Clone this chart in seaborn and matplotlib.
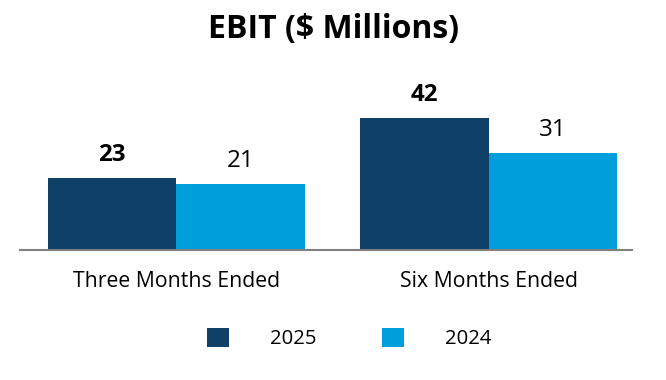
import pandas as pd
import matplotlib.pyplot as plt
import seaborn as sns
from matplotlib.patches import Patch

# --- DATA ---
periods = ["Three Months Ended", "Six Months Ended"]
years = ["2025", "2024"]
ebit_2025 = [23, 42]
ebit_2024 = [21, 31]

COLORS = {"2025": "#0e4068", "2024": "#009fdc"}

df = pd.DataFrame({
    "Period": periods * 2,
    "Year": ["2025"] * len(periods) + ["2024"] * len(periods),
    "EBIT": ebit_2025 + ebit_2024,
})

sns.set_theme(style="white")
plt.rcParams['font.family'] = ['Open Sans', 'DejaVu Sans']
plt.rcParams['text.color'] = 'black'

fig = plt.figure(figsize=(6.66, 3.8), dpi=100)
ax = fig.add_axes([0.030, 0.342, 0.919, 0.495])

sns.barplot(data=df, x="Period", y="EBIT", hue="Year", hue_order=years,
            palette=COLORS, width=0.822, gap=0, ax=ax, legend=False,
            saturation=1, edgecolor="none")

ax.set_ylim(0, 60)
ax.set_xlim(-0.50, 1.458)

# value labels: 2025 bold, 2024 regular
for cont, weight in zip(ax.containers, ["bold", "normal"]):
    ax.bar_label(cont, fmt="%d", padding=8, fontsize=17.4, fontweight=weight,
                 color="black")

for s in ["top", "right", "left"]:
    ax.spines[s].set_visible(False)
ax.spines["bottom"].set_color("#808080")
ax.spines["bottom"].set_linewidth(1.5)
ax.set_yticks([])
ax.set_xlabel("")
ax.set_ylabel("")
ax.tick_params(axis="x", length=0, pad=15, labelsize=15.3, labelcolor="black")

fig.suptitle("EBIT ($ Millions)", fontsize=23, fontweight="bold", y=0.965,
             color="black")

handles = [Patch(facecolor=COLORS[y], edgecolor="none", label=y) for y in years]
fig.legend(handles=handles, loc="center", bbox_to_anchor=(0.524, 1 - 338.5 / 380),
           ncol=2, frameon=False, fontsize=14.6, handlelength=1.1, handleheight=1.1,
           handletextpad=2.0, columnspacing=3.25, labelcolor="black")

plt.savefig("out.png", dpi=100)
